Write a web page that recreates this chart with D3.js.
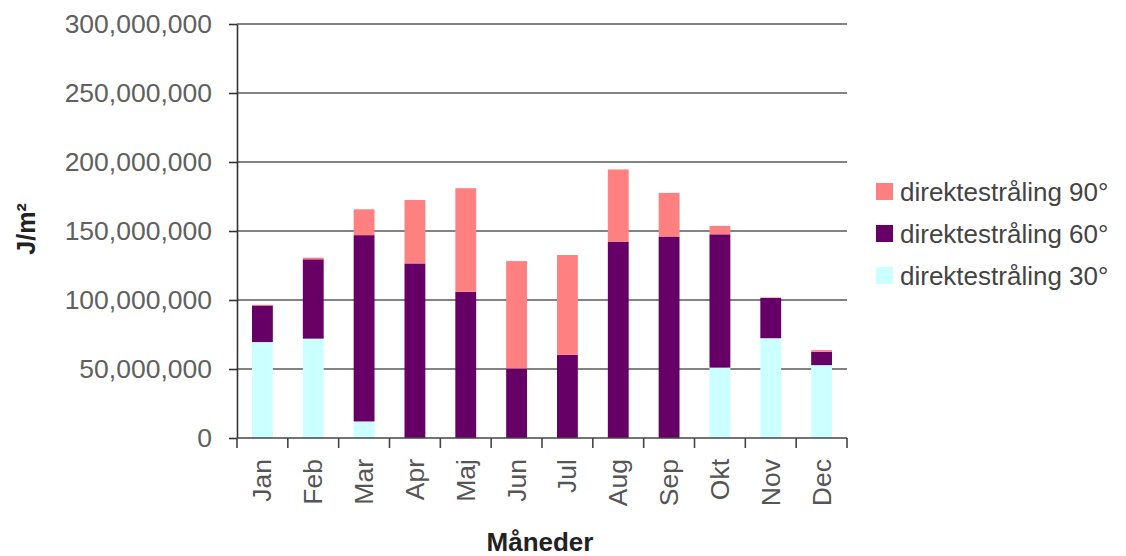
<!DOCTYPE html>
<html>
<head>
<meta charset="utf-8">
<script src="https://cdn.jsdelivr.net/npm/d3@7"></script>
<style>
  html, body { margin: 0; padding: 0; background: #fff; }
  svg { display: block; font-family: "Liberation Sans", Arial, sans-serif; }
</style>
</head>
<body>
<svg id="chart" width="1126" height="556"></svg>
<script>
const months = ["Jan", "Feb", "Mar", "Apr", "Maj", "Jun", "Jul", "Aug", "Sep", "Okt", "Nov", "Dec"];
const direkte30 = [69500000, 72000000, 12000000, 0, 0, 0, 0, 0, 0, 51000000, 72300000, 52800000];
const direkte60 = [26500000, 57500000, 135000000, 126500000, 106000000, 50400000, 60300000, 142300000, 146000000, 96600000, 29200000, 9700000];
const direkte90 = [500000, 1200000, 18700000, 46000000, 75000000, 77800000, 72300000, 52300000, 31600000, 6100000, 300000, 1200000];
const yTicks = [0, 50000000, 100000000, 150000000, 200000000, 250000000, 300000000];

const seriesKeys = ["d30", "d60", "d90"];
const seriesNames = { d30: "direktestråling 30°", d60: "direktestråling 60°", d90: "direktestråling 90°" };
const colors = { d30: "#ccffff", d60: "#660066", d90: "#ff8080" };

const table = months.map((m, i) => ({ month: m, d30: direkte30[i], d60: direkte60[i], d90: direkte90[i] }));

const svg = d3.select("#chart");
const plot = { left: 237, right: 847, top: 24, bottom: 438 };

const x = d3.scaleBand()
  .domain(months)
  .range([plot.left, plot.right])
  .paddingInner(0.59)
  .paddingOuter(0.295);

const y = d3.scaleLinear()
  .domain([0, 300000000])
  .range([plot.bottom, plot.top]);

// gridlines
svg.append("g")
  .selectAll("line")
  .data(yTicks.filter(d => d > 0))
  .join("line")
  .attr("x1", plot.left)
  .attr("x2", plot.right)
  .attr("y1", d => y(d))
  .attr("y2", d => y(d))
  .attr("stroke", "#5a5a5a")
  .attr("stroke-width", 1.6);

// stacked bars
const stacked = d3.stack().keys(seriesKeys)(table);

svg.append("g")
  .selectAll("g")
  .data(stacked)
  .join("g")
  .attr("fill", d => colors[d.key])
  .selectAll("rect")
  .data(d => d)
  .join("rect")
  .attr("x", d => x(d.data.month))
  .attr("width", x.bandwidth())
  .attr("y", d => y(d[1]))
  .attr("height", d => y(d[0]) - y(d[1]));

// y axis
const yAxis = svg.append("g")
  .attr("transform", `translate(${plot.left},0)`)
  .call(d3.axisLeft(y).tickValues(yTicks).tickSize(8).tickSizeOuter(0).tickPadding(17).tickFormat(d3.format(",")));
yAxis.select(".domain").attr("stroke", "#333").attr("stroke-width", 1.6);
yAxis.selectAll(".tick line").attr("stroke", "#333").attr("stroke-width", 1.6);
yAxis.selectAll(".tick text")
  .attr("fill", "#606060")
  .style("font-size", "26.5px");

// x axis
const step = x.step();
const boundaries = d3.range(months.length + 1).map(i => x.range()[0] + i * step);
const xAxis = svg.append("g");
xAxis.append("line")
  .attr("x1", plot.left).attr("x2", plot.right)
  .attr("y1", plot.bottom).attr("y2", plot.bottom)
  .attr("stroke", "#444").attr("stroke-width", 1.6);
xAxis.selectAll(".xtick")
  .data(boundaries)
  .join("line")
  .attr("class", "xtick")
  .attr("x1", d => d).attr("x2", d => d)
  .attr("y1", plot.bottom).attr("y2", plot.bottom + 10)
  .attr("stroke", "#444").attr("stroke-width", 1.6);
xAxis.selectAll(".xlabel")
  .data(months)
  .join("text")
  .attr("class", "xlabel")
  .attr("transform", d => `translate(${x(d) + x.bandwidth() / 2 + 9},459) rotate(-90)`)
  .attr("text-anchor", "end")
  .attr("fill", "#555")
  .style("font-size", "26.5px")
  .text(d => d);

// axis titles
svg.append("text")
  .attr("x", 540)
  .attr("y", 551)
  .attr("text-anchor", "middle")
  .attr("font-weight", "bold")
  .attr("fill", "#222")
  .style("font-size", "26px")
  .text("Måneder");

svg.append("text")
  .attr("transform", "translate(35,229) rotate(-90)")
  .attr("text-anchor", "middle")
  .attr("font-weight", "bold")
  .attr("fill", "#222")
  .style("font-size", "25px")
  .text("J/m²");

// legend
const legendKeys = ["d90", "d60", "d30"];
const legend = svg.append("g")
  .selectAll("g")
  .data(legendKeys)
  .join("g")
  .attr("transform", (d, i) => `translate(876,${183 + i * 42})`);
legend.append("rect")
  .attr("width", 17).attr("height", 17)
  .attr("fill", d => colors[d]);
legend.append("text")
  .attr("x", 24)
  .attr("y", 8.5)
  .attr("dy", "0.35em")
  .attr("fill", "#444")
  .style("font-size", "26px")
  .text(d => seriesNames[d]);
</script>
</body>
</html>
